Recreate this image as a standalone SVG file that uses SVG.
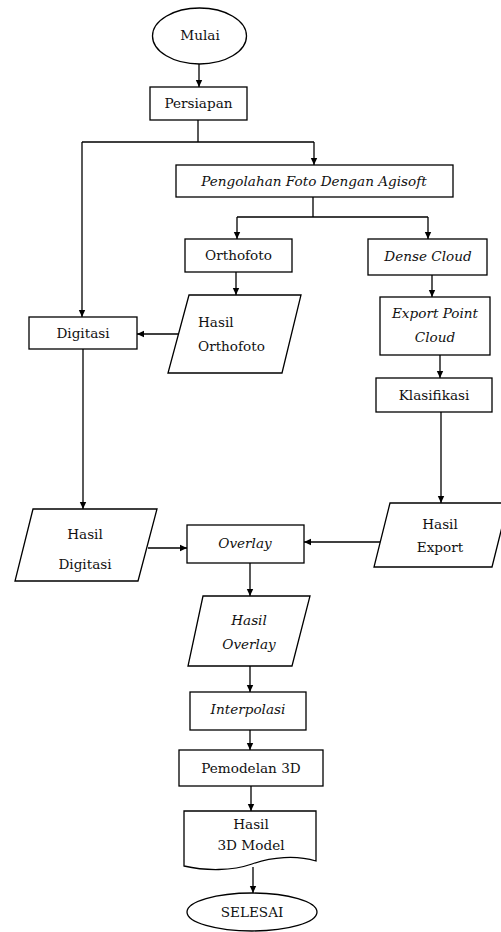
<svg xmlns="http://www.w3.org/2000/svg" width="501" height="932" viewBox="0 0 501 932">
<defs>
<marker id="ah" markerWidth="8" markerHeight="8" refX="7" refY="4" orient="auto" markerUnits="userSpaceOnUse">
<path d="M0,0.8 L7,4 L0,7.2 Z" fill="#000"/>
</marker>
<style>
.s{fill:#fff;stroke:#000;stroke-width:1.3}
.c{fill:none;stroke:#000;stroke-width:1.3}
.a{marker-end:url(#ah)}
text{font-family:"DejaVu Serif","Liberation Serif",serif;font-size:13.6px;fill:#111;text-anchor:middle;dominant-baseline:central}
.i{font-style:italic}
</style>
</defs>
<rect width="501" height="932" fill="#fff"/>
<g id="connectors">
<path class="c a" d="M199,64 V87"/>
<path class="c" d="M198,120 V142 M82,142 H314"/>
<path class="c a" d="M314,142 V165"/>
<path class="c a" d="M82,142 V317"/>
<path class="c" d="M313,197 V217 M237,217 H428"/>
<path class="c a" d="M237,217 V239"/>
<path class="c a" d="M428,217 V239"/>
<path class="c a" d="M236,272 V295"/>
<path class="c a" d="M432,275 V297"/>
<path class="c a" d="M440,355 V378"/>
<path class="c a" d="M178,334 H137"/>
<path class="c a" d="M83,349 V509"/>
<path class="c a" d="M441,412 V503"/>
<path class="c a" d="M148,548 H187"/>
<path class="c a" d="M382,542 H304"/>
<path class="c a" d="M250,563 V596"/>
<path class="c a" d="M250,666 V692"/>
<path class="c a" d="M250,730 V750"/>
<path class="c a" d="M251,786 V811"/>
<path class="c a" d="M253,867 V893"/>
</g>
<g id="mulai"><ellipse class="s" cx="199.5" cy="36" rx="47" ry="28"/><text x="200" y="35">Mulai</text></g>
<g id="persiapan"><rect class="s" x="150" y="87" width="97" height="33"/><text x="198.5" y="103">Persiapan</text></g>
<g id="pengolahan"><rect class="s" x="176" y="165" width="277" height="32"/><text class="i" x="314" y="181">Pengolahan Foto Dengan Agisoft</text></g>
<g id="orthofoto"><rect class="s" x="185" y="239" width="107" height="33"/><text x="238.5" y="255">Orthofoto</text></g>
<g id="dense-cloud"><rect class="s" x="368" y="239" width="119" height="36"/><text class="i" x="428" y="256">Dense Cloud</text></g>
<g id="export-point-cloud"><rect class="s" x="380" y="297" width="110" height="58"/><text class="i" x="435" y="313">Export Point</text><text class="i" x="435" y="337">Cloud</text></g>
<g id="klasifikasi"><rect class="s" x="376" y="378" width="116" height="34"/><text x="434" y="395">Klasifikasi</text></g>
<g id="hasil-orthofoto"><path class="s" d="M189,295 H301 L282,373 H168 Z"/><text x="198" y="322" style="text-anchor:start">Hasil</text><text x="198" y="346" style="text-anchor:start">Orthofoto</text></g>
<g id="digitasi"><rect class="s" x="29" y="317" width="108" height="32"/><text x="83" y="333">Digitasi</text></g>
<g id="hasil-digitasi"><path class="s" d="M33,509 H157 L138,581 H15 Z"/><text x="85" y="534">Hasil</text><text x="85" y="564">Digitasi</text></g>
<g id="overlay"><rect class="s" x="187" y="525" width="117" height="38"/><text class="i" x="245" y="543">Overlay</text></g>
<g id="hasil-export"><path class="s" d="M390,503 H508 L492,567 H374 Z"/><text x="440" y="524">Hasil</text><text x="440" y="547">Export</text></g>
<g id="hasil-overlay"><path class="s" d="M203,596 H310 L292,666 H188 Z"/><text class="i" x="249" y="620">Hasil</text><text class="i" x="249" y="644">Overlay</text></g>
<g id="interpolasi"><rect class="s" x="190" y="692" width="116" height="38"/><text class="i" x="248" y="709">Interpolasi</text></g>
<g id="pemodelan-3d"><rect class="s" x="179" y="750" width="144" height="36"/><text x="251" y="768">Pemodelan 3D</text></g>
<g id="hasil-3d-model"><path class="s" d="M184,811 H316 V861 C296,855 272,857 252,864 C232,871 206,871 184,866 Z"/><text x="251" y="824">Hasil</text><text x="251" y="845">3D Model</text></g>
<g id="selesai"><ellipse class="s" cx="252" cy="912" rx="65" ry="19"/><text x="252" y="912">SELESAI</text></g>
</svg>
